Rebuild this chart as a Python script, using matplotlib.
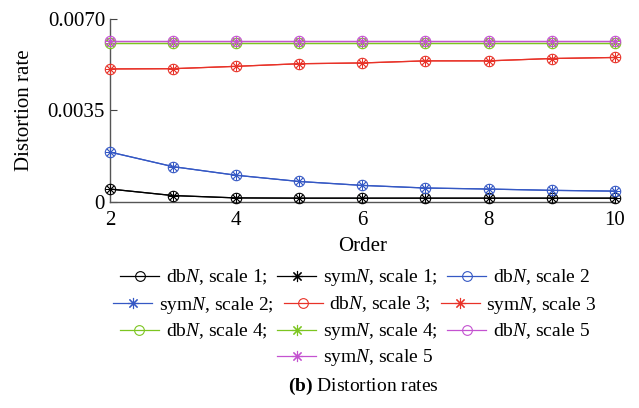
import numpy as np
import matplotlib.pyplot as plt
from matplotlib.lines import Line2D

plt.rcParams['font.family'] = 'Liberation Serif'
plt.rcParams['mathtext.fontset'] = 'custom'
plt.rcParams['mathtext.rm'] = 'Liberation Serif'
plt.rcParams['mathtext.it'] = 'Liberation Serif:italic'
plt.rcParams['mathtext.bf'] = 'Liberation Serif:bold'

# data
order = [2, 3, 4, 5, 6, 7, 8, 9, 10]
scale1 = [0.00048, 0.00023, 0.00014, 0.00013, 0.00013, 0.00013, 0.00013, 0.00013, 0.00013]
scale2 = [0.00190, 0.00134, 0.00101, 0.00077, 0.00062, 0.00052, 0.00048, 0.00043, 0.00040]
scale3 = [0.00509, 0.00510, 0.00519, 0.00529, 0.00532, 0.00540, 0.00540, 0.00549, 0.00553]
scale4 = [0.00607] * 9
scale5 = [0.00615] * 9

series = [scale1, scale2, scale3, scale4, scale5]
colors = ['black', '#3558c4', '#e83228', '#7cc520', '#c452d0']
asterisk = (8, 2, 0)

fig = plt.figure(figsize=(6.39, 4.08), dpi=100)
ax = fig.add_axes([0.172, 0.506, 0.79, 0.447])

handles = {}
for i, (vals, c) in enumerate(zip(series, colors)):
    ln_db, = ax.plot(order, vals, color=c, lw=0.9, marker='o', ms=7.5,
                     mfc='none', mec=c, mew=0.8, clip_on=False, zorder=3)
    ln_sym, = ax.plot(order, vals, color=c, lw=0.9, marker=asterisk, ms=7,
                      mec=c, mew=0.6, clip_on=False, zorder=3)
    handles[('db', i + 1)] = ln_db
    handles[('sym', i + 1)] = ln_sym

ax.set_xlim(2, 10)
ax.set_ylim(0, 0.0070)
ax.set_xticks([2, 4, 6, 8, 10])
ax.set_yticks([0, 0.0035, 0.0070])
ax.set_yticklabels(['0', '0.0035', '0.0070'])
ax.tick_params(direction='in', length=5, labelsize=15, color='#444444')
ax.tick_params(axis='x', length=0, pad=7)
ax.spines['top'].set_visible(False)
ax.spines['right'].set_visible(False)
for s in ['left', 'bottom']:
    ax.spines[s].set_color('#555555')
    ax.spines[s].set_linewidth(1.0)
ax.set_xlabel('Order', fontsize=15, labelpad=5)
ax.set_ylabel('Distortion rate', fontsize=15, labelpad=10)

def lab(kind, k, semi):
    name = r'db$N$' if kind == 'db' else r'sym$N$'
    return f'{name}, scale {k}' + (';' if semi else '')

rows = [
    [('db', 1, True), ('sym', 1, True), ('db', 2, False)],
    [('sym', 2, True), ('db', 3, True), ('sym', 3, False)],
    [('db', 4, True), ('sym', 4, True), ('db', 5, False)],
    [('sym', 5, False)],
]
row_y = [278, 305, 332, 358]
for row, y in zip(rows, row_y):
    hs = []
    ls = []
    for kind, k, semi in row:
        src = handles[(kind, k)]
        mk = 'o' if kind == 'db' else asterisk
        hs.append(Line2D([], [], color=src.get_color(), lw=0.9, marker=mk,
                         ms=7 if kind == 'db' else 8, mfc='none',
                         mec=src.get_color(), mew=0.8))
        ls.append(lab(kind, k, semi))
    fig.legend(hs, ls, loc='center', bbox_to_anchor=(355 / 639, 1 - y / 408),
               ncol=len(row), frameon=False, fontsize=14, handlelength=2.0,
               handletextpad=0.35, columnspacing=0.5, borderpad=0,
               borderaxespad=0)

fig.text(363 / 639, 1 - 386 / 408, r'$\mathbf{(b)}$ Distortion rates',
         ha='center', va='center', fontsize=14)

fig.savefig('out.png', dpi=100)
